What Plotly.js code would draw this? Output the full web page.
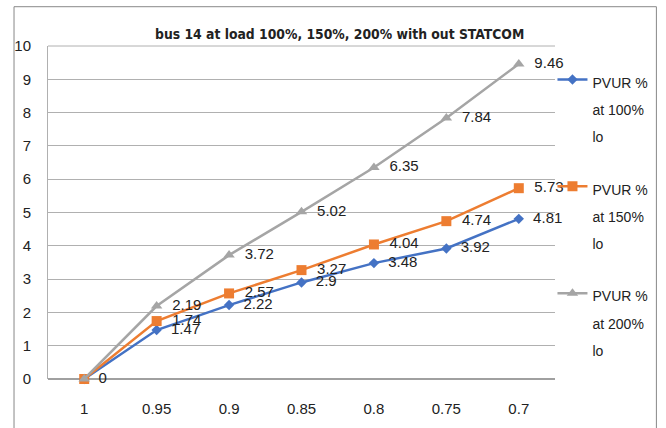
<!DOCTYPE html>
<html>
<head>
<meta charset="utf-8">
<script src="https://cdn.plot.ly/plotly-3.0.1.min.js"></script>
<style>html,body{margin:0;padding:0;background:#fff;}#chart{width:666px;height:428px;}</style>
</head>
<body>
<div id="chart"></div>
<script>
const categories = ["1", "0.95", "0.9", "0.85", "0.8", "0.75", "0.7"];
const pvur100 = [0, 1.47, 2.22, 2.9, 3.48, 3.92, 4.81];
const pvur150 = [0, 1.74, 2.57, 3.27, 4.04, 4.74, 5.73];
const pvur200 = [0, 2.19, 3.72, 5.02, 6.35, 7.84, 9.46];
const seriesNames = ["PVUR %<br>at 100%<br>lo", "PVUR %<br>at 150%<br>lo", "PVUR %<br>at 200%<br>lo"];
const yTicks = [0, 1, 2, 3, 4, 5, 6, 7, 8, 9, 10];

const FONT = "'Liberation Sans', Arial, sans-serif";
const TITLE_FONT = "'DejaVu Sans Condensed', 'Liberation Sans', sans-serif";

function labels(vals, showZero) {
  return vals.map(v => (v === 0 && !showZero) ? "" : "\u00a0\u00a0" + String(v));
}
function legendText(s) {
  return s.split("<br>").map(l => '<span style="font-size:14px">' + l + '</span>').join("<br>");
}

const colors = ["#4472C4", "#ED7D31", "#A5A5A5"];
const symbols = ["diamond", "square", "triangle-up"];
const sizes = [8, 10, 10];
const data = [pvur100, pvur150, pvur200].map((vals, i) => ({
  type: "scatter",
  mode: "lines+markers+text",
  x: categories,
  y: vals,
  name: legendText(seriesNames[i]),
  legendgroup: "g" + i,
  text: labels(vals, i === 0),
  textposition: "middle right",
  textfont: {family: FONT, size: 15, color: "#222"},
  line: {color: colors[i], width: 2.5},
  marker: {color: colors[i], symbol: symbols[i], size: sizes[i]},
  cliponaxis: false
}));

const layout = {
  width: 666, height: 428,
  margin: {l: 48, r: 111, t: 46, b: 49, autoexpand: false},
  paper_bgcolor: "#fff",
  plot_bgcolor: "#fff",
  font: {family: FONT, size: 15, color: "#222"},
  title: {
    text: "<b>bus 14 at load 100%, 150%, 200% with out STATCOM</b>",
    font: {family: TITLE_FONT, size: 13.8, color: "#222"},
    x: 0.51, xanchor: "center", y: 0.92, yanchor: "middle"
  },
  xaxis: {
    type: "category",
    range: [-0.5, 6.5],
    showgrid: false,
    zeroline: false,
    showline: false,
    ticks: "",
    ticklabelstandoff: 19,
    tickfont: {family: FONT, size: 15, color: "#222"}
  },
  yaxis: {
    range: [0, 10],
    tickvals: yTicks,
    ticktext: yTicks.map(String),
    showgrid: true,
    gridcolor: "#b0b0b0",
    gridwidth: 1,
    zeroline: true,
    zerolinecolor: "#a0a0a0",
    zerolinewidth: 1.5,
    showline: true,
    linecolor: "#b0b0b0",
    linewidth: 1,
    ticks: "",
    ticklabelstandoff: 13,
    tickfont: {family: FONT, size: 15, color: "#222"}
  },
  showlegend: true,
  legend: {
    x: 0.995, xanchor: "left", y: 0.96, yanchor: "top",
    valign: "top",
    traceorder: "grouped",
    tracegroupgap: 22,
    font: {family: FONT, size: 21, color: "#222"},
    bgcolor: "rgba(0,0,0,0)",
    itemwidth: 30
  },
  shapes: [
    {type: "line", xref: "paper", yref: "paper", x0: 0, x1: 1, y0: 1, y1: 1,
     line: {color: "#b0b0b0", width: 1}},
    {type: "rect", xref: "paper", yref: "paper", x0: -0.067, x1: 1.2, y0: -0.3, y1: 1.118,
     line: {color: "#888", width: 1}, fillcolor: "rgba(0,0,0,0)", layer: "below"}
  ]
};

Plotly.newPlot("chart", data, layout, {displayModeBar: false, staticPlot: true});
</script>
</body>
</html>
